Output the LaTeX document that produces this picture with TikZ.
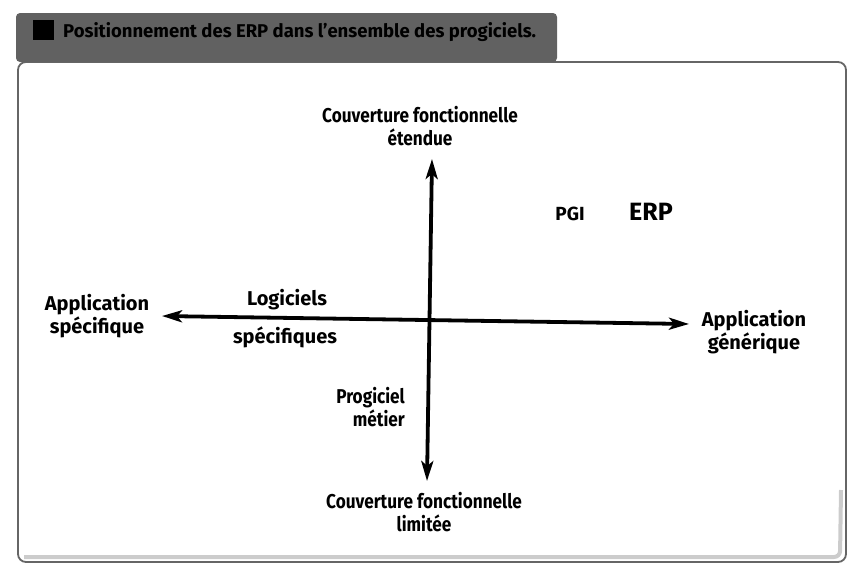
\documentclass[tikz,border=0pt]{standalone}
\usepackage{fontspec}
\setmainfont{Fira Sans}
\usetikzlibrary{arrows.meta}
\tikzset{
  lbl/.style={font=\bfseries\fontsize{20}{23}\selectfont, align=center, inner sep=1pt},
  lblnarrow/.style={font=\bfseries\fontsize{20}{23}\selectfont\addfontfeature{FakeStretch=0.86}, align=center, inner sep=1pt},
  axis/.style={line width=3.8pt, {Stealth[length=20pt,width=12pt,inset=5pt]}-{Stealth[length=20pt,width=12pt,inset=5pt]}},
}
\begin{document}
\begin{tikzpicture}[x=1pt,y=-1pt]
\useasboundingbox (0,0) rectangle (852,571);
% frame with shadow
\draw[black!20, line width=4pt, rounded corners=6pt] (24,557) -- (840,557) -- (841,490);
\draw[black!60, line width=1.8pt, rounded corners=8pt] (18,62) rectangle (846,562);
% title bar
\fill[black!62, rounded corners=4pt] (16,13) rectangle (557,62);
\fill[black] (33,20) rectangle (54,40);
\node[anchor=west, inner sep=0pt, font=\bfseries\fontsize{18.5}{20}\selectfont, text=black] (title) at (63,32) {Positionnement des ERP dans l'ensemble des progiciels.};
% axes
\coordinate (L) at (162,316);
\coordinate (R) at (689,324);
\coordinate (T) at (432,159);
\coordinate (B) at (427,481);
\draw[axis] (L) -- (R);
\draw[axis] (T) -- (B);
% labels
\node[lblnarrow] (top) at (420,126) {Couverture fonctionnelle\\étendue};
\node[lblnarrow] (bot) at (424,512) {Couverture fonctionnelle\\limitée};
\node[lbl] (left) at (97,316) {Application\\spécifique};
\node[lbl] (right) at (754,332) {Application\\générique};
\node[lbl] (log) at (287,300) {Logiciels};
\node[lbl] (spe) at (285,337) {spécifiques};
\node[lblnarrow, anchor=east, align=right] (prog) at (406,407) {Progiciel\\métier};
\node[font=\bfseries\fontsize{19}{20}\selectfont, inner sep=1pt] (pgi) at (570,214) {PGI};
\node[font=\bfseries\fontsize{25}{26}\selectfont, inner sep=1pt] (erp) at (651,212) {ERP};
\end{tikzpicture}
\end{document}
